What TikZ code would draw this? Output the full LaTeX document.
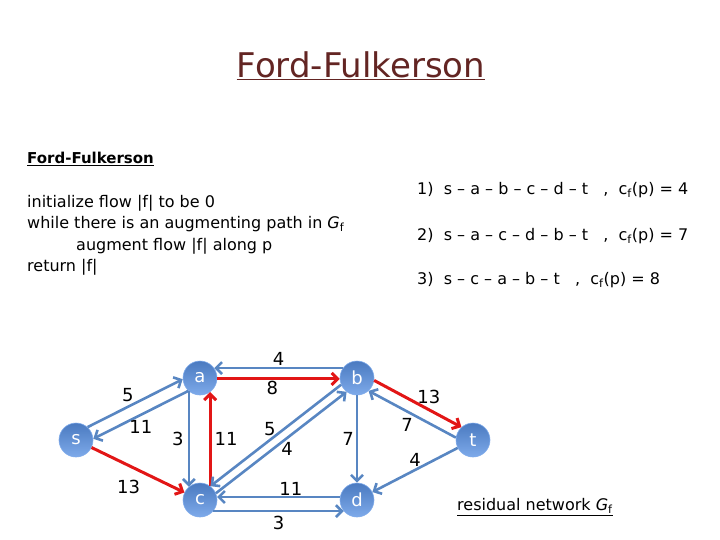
\documentclass[tikz,border=0pt]{standalone}
\usepackage{fontspec}
\setmainfont{DejaVu Sans}
\usetikzlibrary{
    arrows.meta,
    positioning
}
\definecolor{titlered}{RGB}{99,37,35}
\definecolor{edgeblue}{RGB}{88,134,194}
\definecolor{augred}{RGB}{226,22,22}
\definecolor{nodetop}{RGB}{74,122,192}
\definecolor{nodebot}{RGB}{126,170,234}
\tikzset{vtx/.style={circle, minimum size=34pt, inner sep=0pt, top color=nodetop, bottom color=nodebot, draw=nodebot, line width=0.6pt, text=white, font=\fontsize{18}{18}\selectfont}}
\tikzset{flw/.style={draw=edgeblue, line width=2.6pt, -{Straight Barb[length=6pt, width=12pt]}}}
\tikzset{aug/.style={draw=augred, line width=3pt, -{Straight Barb[length=6pt, width=12pt]}}}
\tikzset{lbl/.style={font=\fontsize{18}{18}\selectfont, inner sep=1pt}}
\tikzset{txt/.style={font=\fontsize{15}{15}\selectfont, inner sep=0pt, anchor=west}}

\begin{document}
\begin{tikzpicture}[x=1pt, y=-1pt]
                        \useasboundingbox (0, 0) rectangle (720, 540);

                        \node[font=\fontsize{34}{34}\selectfont, text=titlered] (title) at (361, 66) {\underline{Ford-Fulkerson}};
                        \node[txt, font=\fontsize{15}{15}\selectfont\bfseries] (algname) at (27, 159) {\underline{Ford-Fulkerson}};
                        \node[txt, anchor=north west, align=left, font=\fontsize{16}{21.5}\selectfont] (algo) at (27, 195)
                        {initialize flow |f| to be 0\\
                         while there is an augmenting path in \textit{G}\textsubscript{f}\\
                         \hspace*{49pt}augment flow |f| along p\\
                         return |f|};

                        \node[txt, font=\fontsize{16}{16}\selectfont] (p1) at (417, 190) {1)\ \ s -- a -- b -- c -- d -- t\ \ \ ,\ \ c\textsubscript{f}(p) = 4};
                        \node[txt, font=\fontsize{16}{16}\selectfont] (p2) at (417, 236) {2)\ \ s -- a -- c -- d -- b -- t\ \ \ ,\ \ c\textsubscript{f}(p) = 7};
                        \node[txt, font=\fontsize{16}{16}\selectfont] (p3) at (417, 280) {3)\ \ s -- c -- a -- b -- t\ \ \ ,\ \ c\textsubscript{f}(p) = 8};

                        \node[vtx] (s) at (76, 440) {s};
                        \node[vtx] (a) at (200, 378) {a};
                        \node[vtx] (b) at (357, 378) {b};
                        \node[vtx] (c) at (200, 500) {c};
                        \node[vtx] (d) at (357, 500) {d};
                        \node[vtx] (t) at (473, 440) {t};

                        \draw
                        (s.48) edge[flw] node[lbl, above left=-1pt] {5} (a.184)
                        (a.228) edge[flw] node[lbl, below=3pt] {11} (s.4)
                        (s) edge[aug] node[lbl, pos=0.55, below left=5pt and 0pt] {13} (c)
                        (a.230) edge[flw] node[lbl, left=3pt] {3} (c.130)
                        (c.54) edge[aug] node[lbl, right=2pt] {11} (a.306)
                        (b.145) edge[flw] node[lbl, above=0pt] {4} (a.35)
                        (a.-3) edge[aug] node[lbl, pos=0.45, below=0pt] {8} (b.183)
                        (b.203) edge[flw] node[lbl, above left=-3pt] {5} (c.53)
                        (c.23) edge[flw] node[lbl, below right=-3pt] {4} (b.233)
                        (d.170) edge[flw] node[lbl, pos=0.4, above=-1pt] {11} (c.10)
                        (c.-40) edge[flw] node[lbl, below=3pt] {3} (d.220)
                        (b) edge[flw] node[lbl, left=1pt] {7} (d)
                        (b.-8) edge[aug] node[lbl, above right=-4pt] {13} (t.132)
                        (t.172) edge[flw] node[lbl, below left=2pt and -3pt] {7} (b.-48)
                        (t) edge[flw] node[lbl, above=1pt] {4} (d);

                        \node[txt, font=\fontsize{16}{16}\selectfont] (resnet) at (457, 507) {\underline{residual network \textit{G}\textsubscript{f}}};
                    \end{tikzpicture}
\end{document}
